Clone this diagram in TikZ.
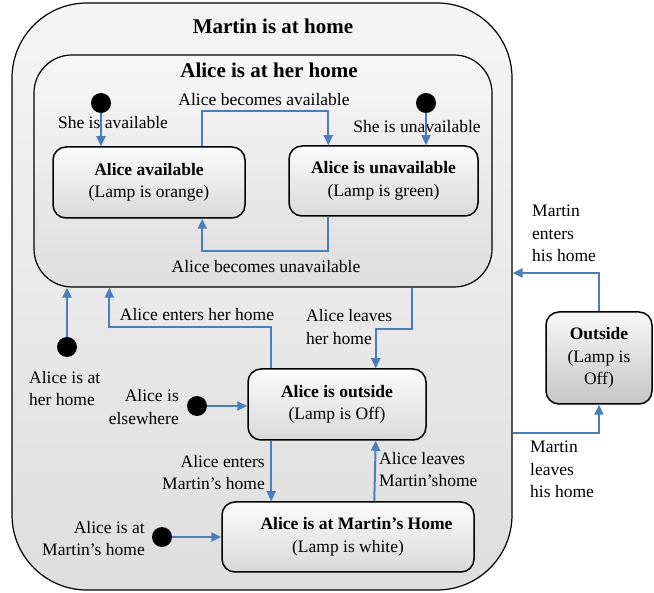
\documentclass[tikz,border=0pt]{standalone}
\usepackage{fontspec}
\setmainfont{Liberation Serif}
\usetikzlibrary{arrows.meta}
\definecolor{arrowblue}{RGB}{74,126,187}
\newcommand{\txtfont}{\fontsize{17.5}{22.5}\selectfont}
\newcommand{\ttlfont}{\fontsize{21}{25}\selectfont\bfseries}
\tikzset{
  region/.style={draw=black, line width=1.2pt},
  statebox/.style={draw=black, line width=1.5pt, rounded corners=13pt, top color=gray!3, bottom color=gray!30, align=center, font=\txtfont, inner sep=0pt},
  initdot/.style={circle, fill=black, minimum size=20pt, inner sep=0pt},
  trans/.style={draw=arrowblue, line width=2pt, -{Triangle[length=10pt,width=9pt]}},
  lbl/.style={font=\txtfont, inner sep=0pt},
}
\begin{document}
\begin{tikzpicture}[x=1pt,y=-1pt]
\useasboundingbox (0,0) rectangle (654,593);
% regions
\node[region, rounded corners=75pt, top color=gray!8, bottom color=gray!26, minimum width=500pt, minimum height=587pt] (outer) at (262,296.5) {};
\node[font=\ttlfont] (martinttl) at (273,26) {Martin is at home};
\node[region, rounded corners=38pt, top color=gray!6, bottom color=gray!26, minimum width=458pt, minimum height=232pt] (inner) at (263,171) {};
\node[font=\ttlfont] (alicettl) at (269,70) {Alice is at her home};
% states
\node[statebox, minimum width=192pt, minimum height=71pt] (avail) at (149,182.5) {\textbf{Alice available}\\(Lamp is orange)};
\node[statebox, minimum width=189pt, minimum height=70pt] (unav) at (383.5,181) {\textbf{Alice is unavailable}\\(Lamp is green)};
\node[statebox, minimum width=178pt, minimum height=71pt] (aout) at (337,404.5) {\textbf{Alice is outside}\\(Lamp is Off)};
\node[statebox, minimum width=252pt, minimum height=70pt] (mhome) at (348,537) {\hspace*{17pt}\textbf{Alice is at Martin’s Home}\\(Lamp is white)};
\node[statebox, top color=gray!6, bottom color=gray!45, minimum width=106pt, minimum height=92pt] (outbox) at (599,358) {\textbf{Outside}\\(Lamp is\\Off)};
% initial dots
\node[initdot] (d1) at (101,103) {};
\node[initdot] (d2) at (426,103) {};
\node[initdot] (d3) at (67,347) {};
\node[initdot] (d4) at (197,406) {};
\node[initdot] (d5) at (162,537) {};
% labels
\node[lbl] (l1) at (113,123) {She is available};
\node[lbl] (l2) at (417,127) {She is unavailable};
\node[lbl] (l3) at (264,100) {Alice becomes available};
\node[lbl] (l4) at (266,267) {Alice becomes unavailable};
\node[lbl, anchor=west, align=left] (l5) at (29,388.5) {Alice is at\\her home};
\node[lbl] (l6) at (197,315) {Alice enters her home};
\node[lbl, anchor=west, align=left] (l7) at (306,327) {Alice leaves\\her home};
\node[lbl, anchor=east, align=right] (l8) at (179,407) {Alice is\\elsewhere};
\node[lbl, anchor=east, align=right] (l9) at (265,472.5) {Alice enters\\Martin’s home};
\node[lbl, anchor=west, align=left] (l10) at (379,469.5) {Alice leaves\\Martin’shome};
\node[lbl, anchor=east, align=right] (l11) at (145,538.5) {Alice is at\\Martin’s home};
\node[lbl, anchor=west, align=left] (l12) at (532,233.5) {Martin\\enters\\his home};
\node[lbl, anchor=west, align=left] (l13) at (530,469.5) {Martin\\leaves\\his home};
% transitions
\draw[trans] (d1) -- (d1 |- avail.north);
\draw[trans] (d2) -- (d2 |- unav.north);
\draw[trans] ([xshift=150pt]avail.north west) -- ++(0,-35) -| ([xshift=40pt]unav.north west);
\draw[trans] ([xshift=40pt]unav.south west) -- ++(0,34) -| ([xshift=150pt]avail.south west);
\draw[trans] (d3) -- (d3 |- inner.south);
\draw[trans] ([xshift=24pt]aout.north west) -- ++(0,-41) -| ([xshift=76pt]inner.south west);
\draw[trans] ([xshift=-81pt]inner.south east) -- ++(0,41) -| ([xshift=-51pt]aout.north east);
\draw[trans] (d4) -- (d4 -| aout.west);
\draw[trans] ([xshift=24pt]aout.south west) -- ([xshift=50pt]mhome.north west);
\draw[trans] ([xshift=153pt]mhome.north west) -- ([xshift=-51pt]aout.south east);
\draw[trans] (d5) -- (d5 -| mhome.west);
\draw[trans] (outbox.north) |- ([yshift=23.5pt]outer.east);
\draw[trans] ([yshift=-136.5pt]outer.east) -| (outbox.south);
\end{tikzpicture}
\end{document}
